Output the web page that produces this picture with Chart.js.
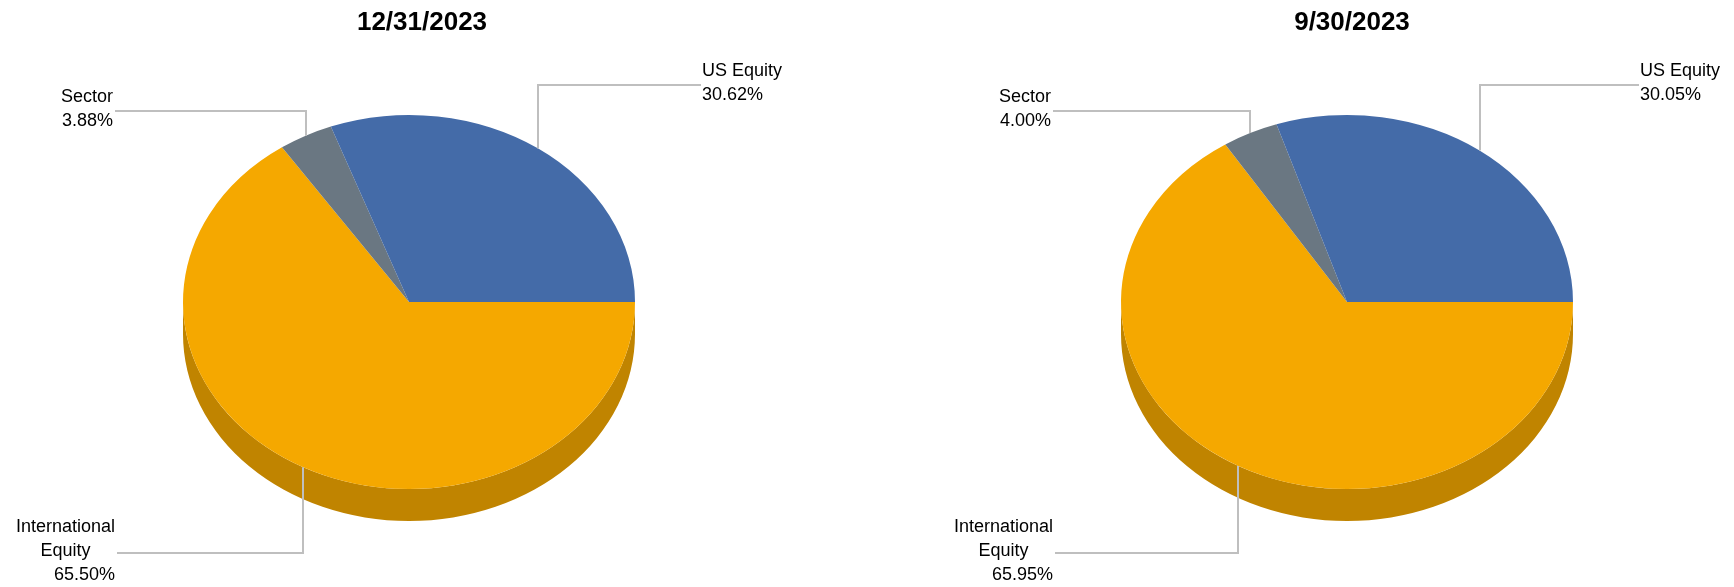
<!DOCTYPE html>
<html>
<head>
<meta charset="utf-8">
<script src="https://cdn.jsdelivr.net/npm/chart.js@4.4.0/dist/chart.umd.min.js"></script>
<style>
  html, body { margin: 0; padding: 0; background: #fff; overflow: hidden; }
  body { width: 1734px; height: 587px; position: relative; }
  canvas { position: absolute; top: 0; }
  #chartDec { left: 0; }
  #chartSep { left: 900px; }
</style>
</head>
<body>
<canvas id="chartDec" width="844" height="587"></canvas>
<canvas id="chartSep" width="904" height="587"></canvas>
<script>
const categories = ["US Equity", "Sector", "International Equity"];
const dec2023 = [30.62, 3.88, 65.5];
const sep2023 = [30.05, 4.0, 65.95];
const titles = ["12/31/2023", "9/30/2023"];

const topColors = ["#446BA8", "#6A7782", "#F5A800"];
const sideColors = ["#2F4B76", "#4A535B", "#C08400"];
// where each leader line ends, relative to the pie centre
const labelSpots = [
  { dx: 292, dy: -217 },
  { dx: -294, dy: -191 },
  { dx: -292, dy: 251 },
];
const FONT = "'Liberation Sans', Arial, sans-serif";
const tilt = 187 / 226;
const depth = 32;

// squash the pie into an ellipse and paint the rim below it
const pie3d = {
  id: "pie3d",
  beforeDatasetsDraw(chart) {
    const arcs = chart.getDatasetMeta(0).data;
    const { x, y, outerRadius: r } = arcs[0];
    const ctx = chart.ctx;
    const sides = chart.data.datasets[0].sideColor;
    ctx.save();
    ctx.translate(x, y);
    ctx.scale(1, tilt);
    ctx.translate(-x, -y);
    const off = depth / tilt;
    arcs.forEach((arc, i) => {
      [0, 2 * Math.PI].forEach((base) => {
        const a0 = Math.max(arc.startAngle, base);
        const a1 = Math.min(arc.endAngle, base + Math.PI);
        if (a1 <= a0) return;
        ctx.beginPath();
        ctx.arc(x, y, r, a0, a1);
        ctx.arc(x, y + off, r, a1, a0, true);
        ctx.closePath();
        ctx.fillStyle = sides[i];
        ctx.fill();
      });
    });
  },
  afterDatasetsDraw(chart) {
    chart.ctx.restore();
  },
};

const wrap = (ctx, text, maxW) => {
  const words = text.split(" ");
  const lines = [];
  let cur = "";
  words.forEach((w) => {
    const t = cur ? cur + " " + w : w;
    if (cur && ctx.measureText(t).width > maxW) {
      lines.push(cur);
      cur = w;
    } else {
      cur = t;
    }
  });
  lines.push(cur);
  return lines;
};

const leaderLabels = {
  id: "leaderLabels",
  afterDraw(chart) {
    const ctx = chart.ctx;
    const arcs = chart.getDatasetMeta(0).data;
    const ds = chart.data.datasets[0];
    ctx.save();

    // title centred on the whole canvas, not on the pie
    ctx.font = "bold 26px " + FONT;
    ctx.fillStyle = "#000";
    ctx.textAlign = "center";
    ctx.textBaseline = "middle";
    ctx.fillText(chart.options.plugins.leaderLabels.title, chart.width / 2, 23);

    ctx.font = "18px " + FONT;
    arcs.forEach((arc, i) => {
      const { x, y, outerRadius: r } = arc;
      const mid = (arc.startAngle + arc.endAngle) / 2;
      const ax = Math.round(x + r * Math.cos(mid));
      const ay = y + r * tilt * Math.sin(mid);
      const spot = ds.spots[i];
      const lx = Math.round(x + spot.dx);
      const ly = Math.round(y + spot.dy);

      ctx.strokeStyle = "#BFBFBF";
      ctx.lineWidth = 2;
      ctx.beginPath();
      ctx.moveTo(ax, ay);
      ctx.lineTo(ax, ly);
      ctx.lineTo(lx, ly);
      ctx.stroke();

      const names = wrap(ctx, chart.data.labels[i], 110);
      const pct = ds.data[i].toFixed(2) + "%";
      const n = names.length + 1;
      const lh = 24;
      const right = spot.dx > 0;
      const edge = right ? lx + 1 : lx - 2;
      const nameW = Math.max(...names.map((s) => ctx.measureText(s).width));
      const nameC = right ? edge + nameW / 2 : edge - nameW / 2;
      let ty = ly - 1.5 - ((n - 1) * lh) / 2;
      ctx.fillStyle = "#000";
      ctx.textBaseline = "middle";
      ctx.textAlign = "center";
      names.forEach((s) => {
        ctx.fillText(s, nameC, ty);
        ty += lh;
      });
      ctx.textAlign = right ? "left" : "right";
      ctx.fillText(pct, edge, ty);
    });
    ctx.restore();
  },
};

const makeChart = (id, title, values, pad) => {
  // clockwise from 3 o'clock: International, Sector, US
  const order = [2, 1, 0];
  return new Chart(document.getElementById(id), {
    type: "pie",
    data: {
      labels: order.map((i) => categories[i]),
      datasets: [
        {
          data: order.map((i) => values[i]),
          backgroundColor: order.map((i) => topColors[i]),
          sideColor: order.map((i) => sideColors[i]),
          spots: order.map((i) => labelSpots[i]),
          borderWidth: 0,
        },
      ],
    },
    options: {
      responsive: false,
      animation: false,
      rotation: 90,
      layout: { padding: pad },
      plugins: {
        legend: { display: false },
        tooltip: { enabled: false },
        title: { display: false },
        leaderLabels: { title: title },
      },
    },
    plugins: [pie3d, leaderLabels],
  });
};

makeChart("chartDec", titles[0], dec2023, { left: 183, right: 209, top: 37, bottom: 20 });
makeChart("chartSep", titles[1], sep2023, { left: 221, right: 231, top: 37, bottom: 20 });
</script>
</body>
</html>
